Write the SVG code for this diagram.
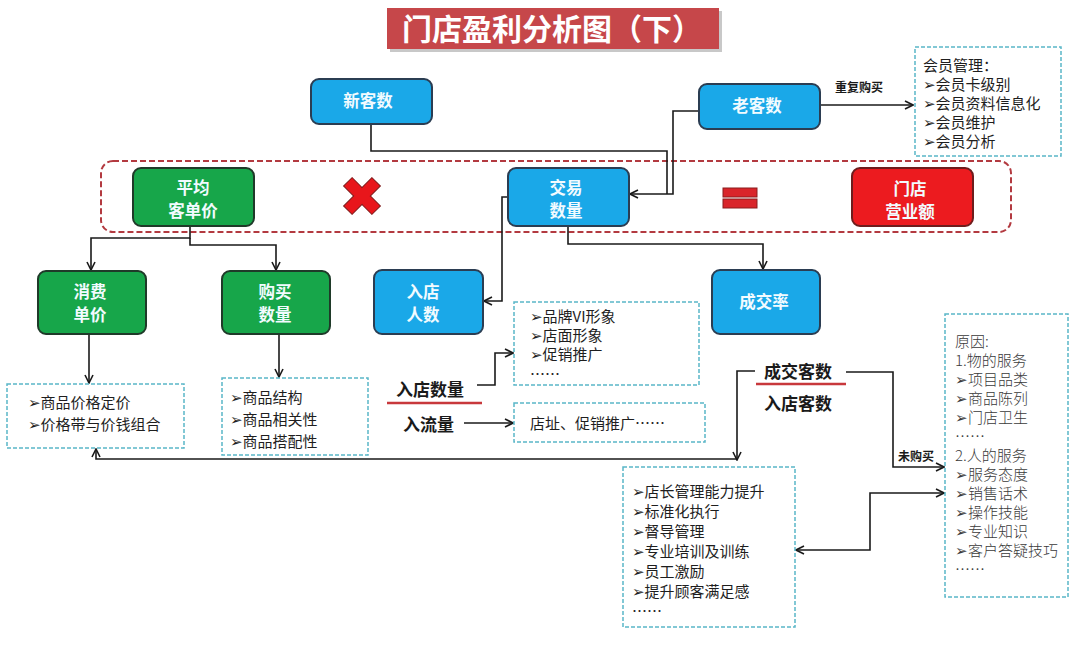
<svg xmlns="http://www.w3.org/2000/svg" width="1080" height="653" viewBox="0 0 1080 653">
<defs>
<style>
.nb{fill:#1aa8e8;stroke:#2b3d52;stroke-width:2}
.ng{fill:#17a64a;stroke:#1f3a29;stroke-width:2}
.nr{fill:#ec1b1f;stroke:#6e1d1d;stroke-width:2}
.nt{font-family:"Noto Sans CJK SC","DejaVu Sans",sans-serif;font-size:16.5px;font-weight:bold;fill:#f2fbff;text-anchor:middle}
.box{fill:#fff;stroke:#5ab6c8;stroke-width:1.5;stroke-dasharray:4 2}
.lt{font-family:"Noto Sans CJK SC","DejaVu Sans",sans-serif;font-size:15px;fill:#1e1e1e}
.st{font-family:"Noto Sans CJK SC","DejaVu Sans",sans-serif;font-size:15px;fill:#3a3a3a;font-weight:300}
.bl{font-family:"Noto Sans CJK SC","DejaVu Sans",sans-serif;font-size:17px;font-weight:bold;fill:#1a1a1a}
.sm{font-family:"Noto Sans CJK SC","DejaVu Sans",sans-serif;font-size:12px;font-weight:bold;fill:#1a1a1a}
.ln{fill:none;stroke:#1a1a1a;stroke-width:1.6}
</style>
<marker id="ar" viewBox="0 0 10 10" refX="9" refY="5" markerWidth="10" markerHeight="10" markerUnits="userSpaceOnUse" orient="auto-start-reverse">
<path d="M1,1 L9,5 L1,9" fill="none" stroke="#1a1a1a" stroke-width="1.6"/>
</marker>
</defs>
<rect width="1080" height="653" fill="#fff"/>

<g id="title">
<rect x="390" y="11" width="332" height="41" fill="#c8c8c8"/>
<rect x="387" y="8" width="332" height="41" fill="#c6474a"/>
<text x="552" y="40" font-family="'Noto Sans CJK SC',sans-serif" font-size="30" font-weight="bold" fill="#fff" text-anchor="middle">门店盈利分析图（下）</text>
</g>

<g id="formula-frame">
<rect x="101" y="161" width="910" height="71" rx="12" fill="none" stroke="#b33a40" stroke-width="2" stroke-dasharray="6 3"/>
</g>

<g id="times">
<g transform="translate(362,196) rotate(45)">
<rect x="-20" y="-6" width="40" height="12" fill="#e8161b" stroke="#7a1a1a" stroke-width="1"/>
<rect x="-6" y="-20" width="12" height="40" fill="#e8161b" stroke="#7a1a1a" stroke-width="1"/>
<rect x="-19.3" y="-5.3" width="38.6" height="10.6" fill="#e8161b"/>
</g>
</g>

<g id="equals">
<rect x="723" y="188" width="34" height="9" fill="#d9252a" stroke="#8a1d1d" stroke-width="1"/>
<rect x="723" y="199" width="34" height="9" fill="#d9252a" stroke="#8a1d1d" stroke-width="1"/>
</g>

<g id="connectors">
<path class="ln" d="M371,124 V151 H667 V194" stroke="#444"/>
<path class="ln" d="M699,111 H673 V194 H630" marker-end="url(#ar)"/>
<path class="ln" d="M820,105 H913" marker-end="url(#ar)"/>
<path class="ln" d="M190,226 V238 H91 V270" marker-end="url(#ar)"/>
<path class="ln" d="M190,238 V245 H276 V270" marker-end="url(#ar)"/>
<path class="ln" d="M89,334 V383" marker-end="url(#ar)"/>
<path class="ln" d="M279,334 V377" marker-end="url(#ar)"/>
<path class="ln" d="M508,197 H502 V301 H484" marker-end="url(#ar)"/>
<path class="ln" d="M568,226 V244 H763 V269" marker-end="url(#ar)"/>
<path class="ln" d="M477,385 H495 V353 H513" marker-end="url(#ar)"/>
<path class="ln" d="M464,423 H513" marker-end="url(#ar)"/>
<path class="ln" d="M755,371 H737 V460" marker-end="url(#ar)"/>
<path class="ln" d="M737,459 H96 V449" marker-end="url(#ar)"/>
<path class="ln" d="M846,372 H893 V467 H944" marker-end="url(#ar)"/>
<path class="ln" d="M796,550 H870 V493 H944" marker-start="url(#ar)" marker-end="url(#ar)"/>
<text class="sm" x="835" y="92">重复购买</text>
<text class="sm" x="898" y="461">未购买</text>
</g>

<g id="n-xinke">
<rect class="nb" x="311" y="79" width="121" height="45" rx="8"/>
<text class="nt" x="368" y="107">新客数</text>
</g>
<g id="n-laoke">
<rect class="nb" x="699" y="84" width="121" height="45" rx="8"/>
<text class="nt" x="757" y="112">老客数</text>
</g>
<g id="n-jiaoyi">
<rect class="nb" x="508" y="168" width="121" height="58" rx="8"/>
<text class="nt" x="566" y="194">交易</text>
<text class="nt" x="566" y="217">数量</text>
</g>
<g id="n-pingjun">
<rect class="ng" x="133" y="168" width="121" height="58" rx="8"/>
<text class="nt" x="193" y="194">平均</text>
<text class="nt" x="193" y="217">客单价</text>
</g>
<g id="n-yingye">
<rect class="nr" x="852" y="168" width="121" height="58" rx="8"/>
<text class="nt" x="910" y="195">门店</text>
<text class="nt" x="910" y="218">营业额</text>
</g>
<g id="n-xiaofei">
<rect class="ng" x="38" y="271" width="108" height="63" rx="8"/>
<text class="nt" x="90" y="298">消费</text>
<text class="nt" x="90" y="321">单价</text>
</g>
<g id="n-goumai">
<rect class="ng" x="222" y="271" width="108" height="63" rx="8"/>
<text class="nt" x="275" y="298">购买</text>
<text class="nt" x="275" y="321">数量</text>
</g>
<g id="n-rudian">
<rect class="nb" x="374" y="270" width="109" height="64" rx="8"/>
<text class="nt" x="423" y="298">入店</text>
<text class="nt" x="423" y="321">人数</text>
</g>
<g id="n-chengjiao">
<rect class="nb" x="712" y="270" width="108" height="64" rx="8"/>
<text class="nt" x="764" y="308">成交率</text>
</g>

<g id="b-huiyuan">
<rect class="box" x="915" y="47" width="146" height="109"/>
<text class="lt" x="923" y="71">会员管理：</text>
<text class="lt" x="923" y="90">➢会员卡级别</text>
<text class="lt" x="923" y="109">➢会员资料信息化</text>
<text class="lt" x="923" y="128">➢会员维护</text>
<text class="lt" x="923" y="147">➢会员分析</text>
</g>

<g id="b-jiage">
<rect class="box" x="7" y="384" width="177" height="64"/>
<text class="lt" x="28" y="408">➢商品价格定价</text>
<text class="lt" x="28" y="430">➢价格带与价钱组合</text>
</g>
<g id="b-shangpin">
<rect class="box" x="222" y="378" width="146" height="77"/>
<text class="lt" x="230" y="403">➢商品结构</text>
<text class="lt" x="230" y="425">➢商品相关性</text>
<text class="lt" x="230" y="447">➢商品搭配性</text>
</g>

<g id="l-rudianshuliang">
<text class="bl" x="396" y="396">入店数量</text>
<line x1="387" y1="403" x2="482" y2="403" stroke="#c8383c" stroke-width="2.5"/>
</g>
<g id="l-ruliuliang">
<text class="bl" x="403" y="431">入流量</text>
</g>

<g id="b-pinpai">
<rect class="box" x="514" y="302" width="185" height="83"/>
<text class="lt" x="530" y="322">➢品牌VI形象</text>
<text class="lt" x="530" y="341">➢店面形象</text>
<text class="lt" x="530" y="360">➢促销推广</text>
<text class="lt" x="530" y="380">……</text>
</g>
<g id="b-dianzhi">
<rect class="box" x="514" y="403" width="191" height="39"/>
<text class="lt" x="530" y="429">店址、促销推广……</text>
</g>

<g id="l-chengjiaokeshu">
<text class="bl" x="764" y="378" font-size="18">成交客数</text>
<line x1="756" y1="384" x2="846" y2="384" stroke="#c8383c" stroke-width="2.5"/>
<text class="bl" x="764" y="410" font-size="18">入店客数</text>
</g>

<g id="b-dianzhang">
<rect class="box" x="623" y="467" width="172" height="160"/>
<text class="lt" x="632" y="497">➢店长管理能力提升</text>
<text class="lt" x="632" y="517">➢标准化执行</text>
<text class="lt" x="632" y="537">➢督导管理</text>
<text class="lt" x="632" y="557">➢专业培训及训练</text>
<text class="lt" x="632" y="577">➢员工激励</text>
<text class="lt" x="632" y="597">➢提升顾客满足感</text>
<text class="lt" x="632" y="617">……</text>
</g>

<g id="b-yuanyin">
<rect class="box" x="945" y="314" width="123" height="283"/>
<text class="st" x="955" y="347">原因:</text>
<text class="st" x="955" y="366">1.物的服务</text>
<text class="st" x="955" y="385">➢项目品类</text>
<text class="st" x="955" y="404">➢商品陈列</text>
<text class="st" x="955" y="423">➢门店卫生</text>
<text class="st" x="955" y="442">……</text>
<text class="st" x="955" y="461">2.人的服务</text>
<text class="st" x="955" y="480">➢服务态度</text>
<text class="st" x="955" y="499">➢销售话术</text>
<text class="st" x="955" y="518">➢操作技能</text>
<text class="st" x="955" y="537">➢专业知识</text>
<text class="st" x="955" y="556">➢客户答疑技巧</text>
<text class="st" x="955" y="575">……</text>
</g>
</svg>
